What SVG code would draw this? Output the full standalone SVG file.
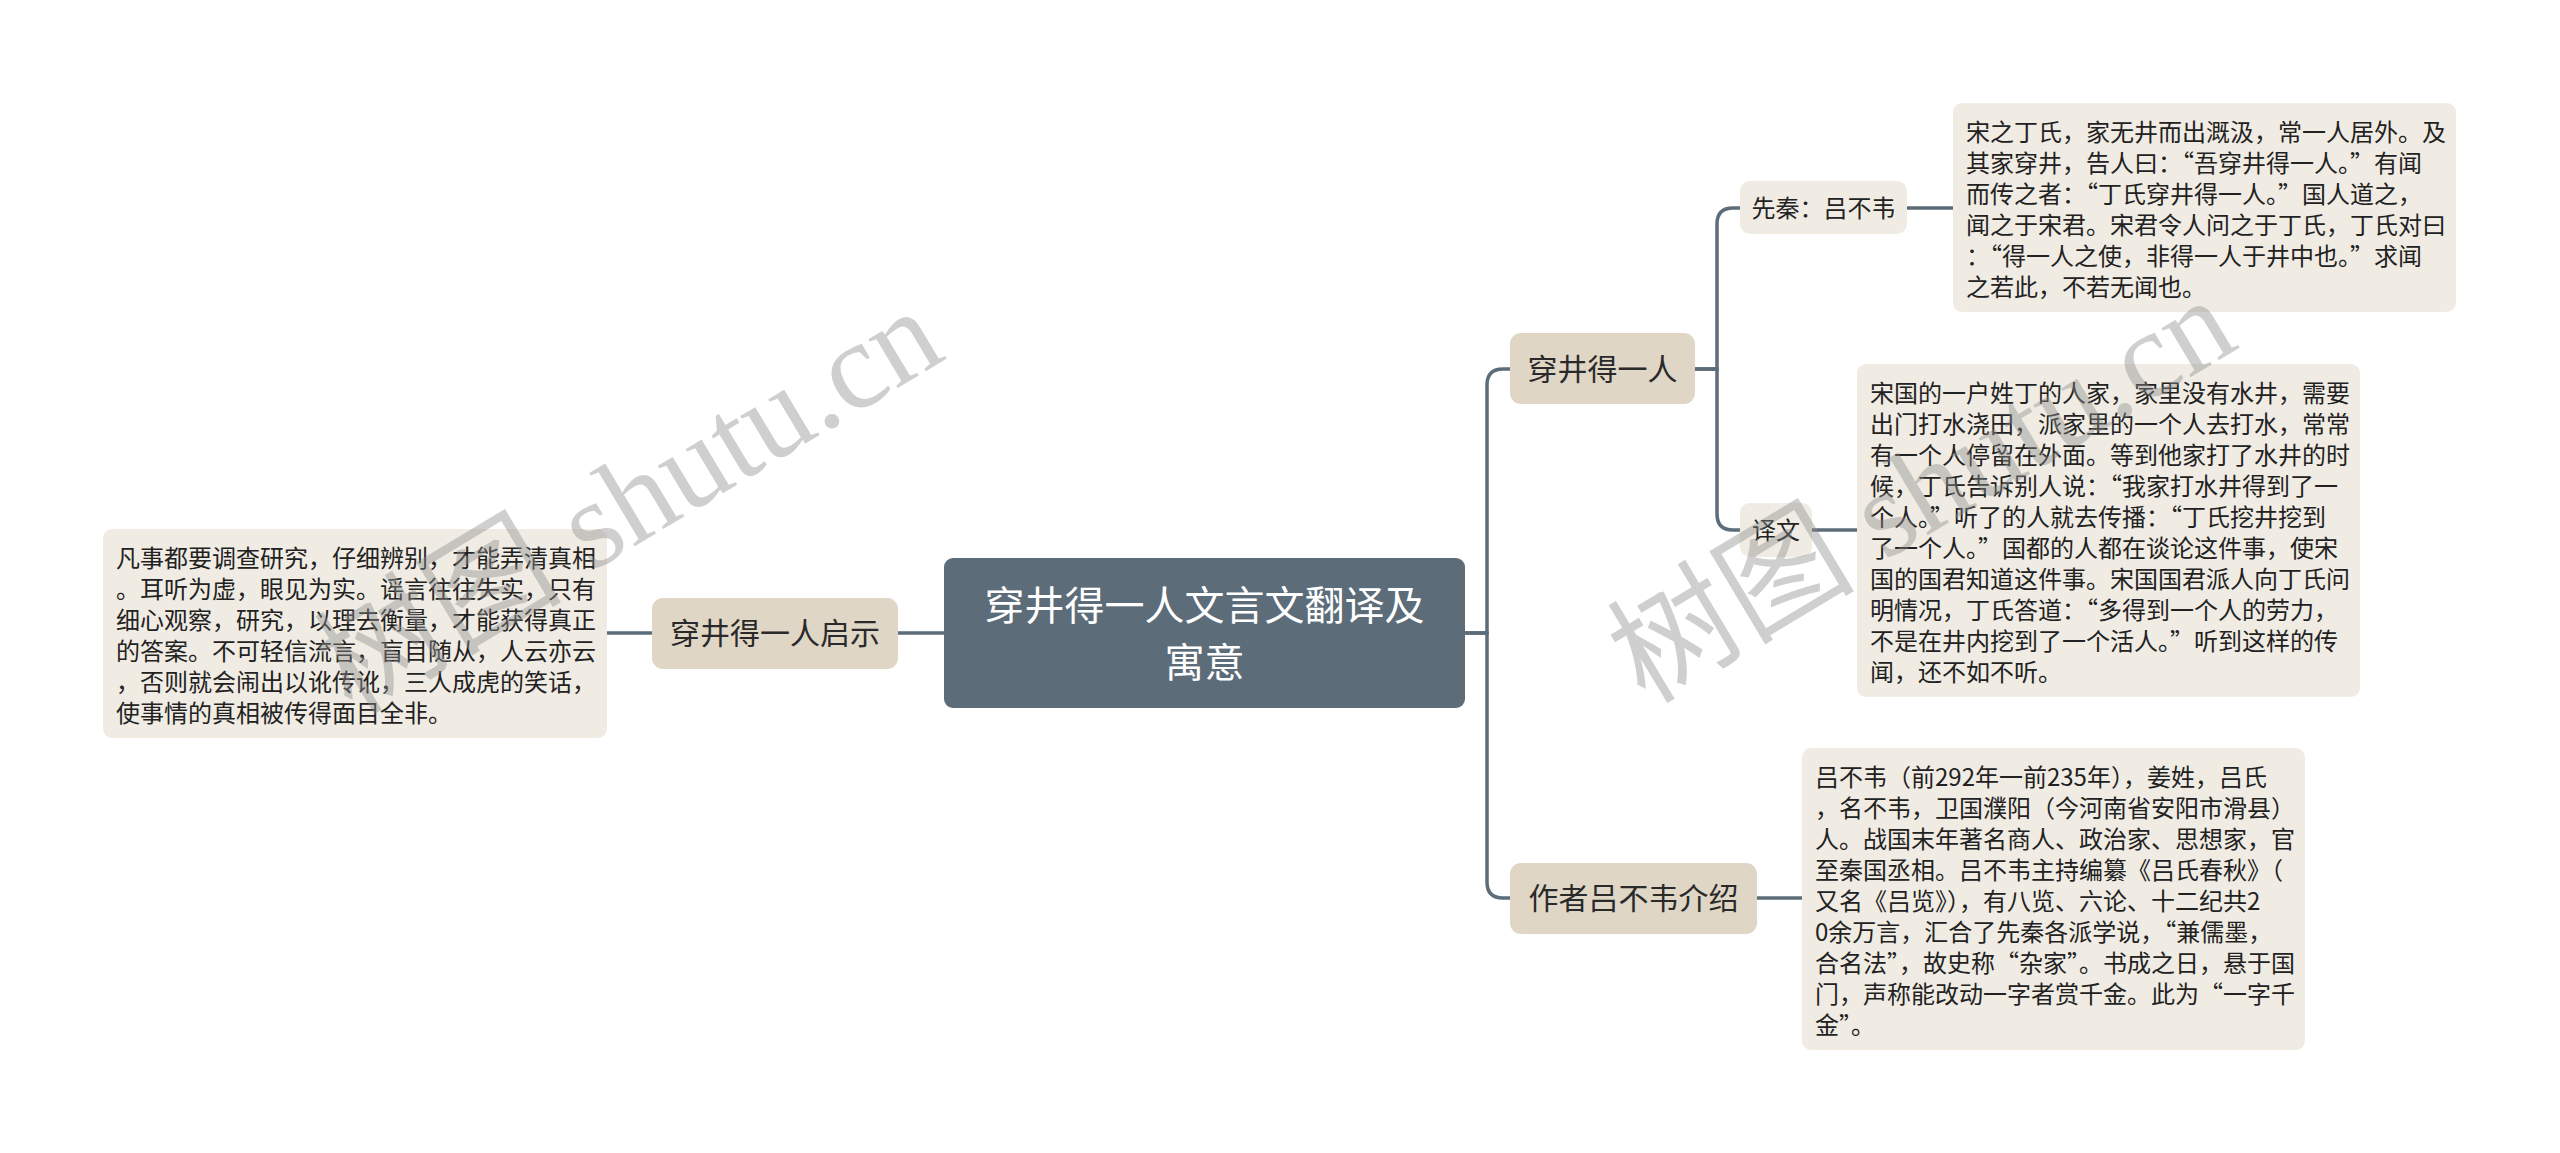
<svg xmlns="http://www.w3.org/2000/svg" width="2560" height="1153" viewBox="0 0 2560 1153">
<style>
.bg{fill:#ffffff}
.root rect{fill:#5c6c79}
.root text{fill:#ffffff;font-size:40px;text-anchor:middle}
.l1 rect{fill:#e0d6c6}
.l1 text{fill:#2a2a2a;font-size:30px;text-anchor:middle}
.l2 rect{fill:#f0ece4}
.l2 text{fill:#222222;font-size:24px;text-anchor:middle}
.leaf rect{fill:#f0ece4}
.leaf text{fill:#222222;font-size:24px}
text{font-family:"Noto Sans CJK SC","Noto Sans",sans-serif}
.conn path{fill:none;stroke:#5c6c79;stroke-width:3.5}
.wm{font-family:"Liberation Serif","Noto Sans CJK SC",serif;font-size:124px;fill:#8c8c8c;fill-opacity:0.42}
</style>
<rect class="bg" x="0" y="0" width="2560" height="1153"/>
<g id="connectors" class="conn">
<path d="M944 633 H898"/>
<path d="M652 633 H607"/>
<path d="M1465 633 H1487 V385 Q1487 369 1503 369 H1510"/>
<path d="M1465 633 H1487 V882 Q1487 898 1503 898 H1510"/>
<path d="M1695 369 H1717 V224 Q1717 208 1733 208 H1740"/>
<path d="M1695 369 H1717 V514 Q1717 530 1733 530 H1740"/>
<path d="M1907 208 H1953"/>
<path d="M1812 530 H1857"/>
<path d="M1757 898 H1802"/>
</g>
<g id="root" class="root">
<rect x="944" y="558" width="521" height="150" rx="9"/>
<text x="1204.5" y="620">穿井得一人文言文翻译及</text>
<text x="1204.5" y="677">寓意</text>
</g>
<g id="node-qishi" class="l1">
<rect x="652" y="598" width="246" height="71" rx="11"/>
<text x="775" y="644">穿井得一人启示</text>
</g>
<g id="leaf-qishi" class="leaf">
<rect x="103" y="529" width="504" height="209" rx="9"/>
<text x="116" y="567">凡事都要调查研究，仔细辨别，才能弄清真相</text>
<text x="116" y="598">。耳听为虚，眼见为实。谣言往往失实，只有</text>
<text x="116" y="629">细心观察，研究，以理去衡量，才能获得真正</text>
<text x="116" y="660">的答案。不可轻信流言，盲目随从，人云亦云</text>
<text x="116" y="691">，否则就会闹出以讹传讹，三人成虎的笑话，</text>
<text x="116" y="722">使事情的真相被传得面目全非。</text>
</g>
<g id="node-chuanjing" class="l1">
<rect x="1510" y="333" width="185" height="71" rx="11"/>
<text x="1602.5" y="380">穿井得一人</text>
</g>
<g id="node-xianqin" class="l2">
<rect x="1740" y="181" width="167" height="53" rx="10"/>
<text x="1823.5" y="217">先秦：吕不韦</text>
</g>
<g id="leaf-yuanwen" class="leaf">
<rect x="1953" y="103" width="503" height="209" rx="9"/>
<text x="1966" y="141">宋之丁氏，家无井而出溉汲，常一人居外。及</text>
<text x="1966" y="172">其家穿井，告人曰：“吾穿井得一人。”有闻</text>
<text x="1966" y="203">而传之者：“丁氏穿井得一人。”国人道之，</text>
<text x="1966" y="234">闻之于宋君。宋君令人问之于丁氏，丁氏对曰</text>
<text x="1966" y="265">：“得一人之使，非得一人于井中也。”求闻</text>
<text x="1966" y="296">之若此，不若无闻也。</text>
</g>
<g id="node-yiwen" class="l2">
<rect x="1740" y="503" width="72" height="54" rx="10"/>
<text x="1776" y="539">译文</text>
</g>
<g id="leaf-yiwen" class="leaf">
<rect x="1857" y="364" width="503" height="333" rx="9"/>
<text x="1870" y="402">宋国的一户姓丁的人家，家里没有水井，需要</text>
<text x="1870" y="433">出门打水浇田，派家里的一个人去打水，常常</text>
<text x="1870" y="464">有一个人停留在外面。等到他家打了水井的时</text>
<text x="1870" y="495">候，丁氏告诉别人说：“我家打水井得到了一</text>
<text x="1870" y="526">个人。”听了的人就去传播：“丁氏挖井挖到</text>
<text x="1870" y="557">了一个人。”国都的人都在谈论这件事，使宋</text>
<text x="1870" y="588">国的国君知道这件事。宋国国君派人向丁氏问</text>
<text x="1870" y="619">明情况，丁氏答道：“多得到一个人的劳力，</text>
<text x="1870" y="650">不是在井内挖到了一个活人。”听到这样的传</text>
<text x="1870" y="681">闻，还不如不听。</text>
</g>
<g id="node-author" class="l1">
<rect x="1510" y="863" width="247" height="71" rx="11"/>
<text x="1633.5" y="909">作者吕不韦介绍</text>
</g>
<g id="leaf-author" class="leaf">
<rect x="1802" y="748" width="503" height="302" rx="9"/>
<text x="1815" y="786">吕不韦（前292年一前235年），姜姓，吕氏</text>
<text x="1815" y="817">，名不韦，卫国濮阳（今河南省安阳市滑县）</text>
<text x="1815" y="848">人。战国末年著名商人、政治家、思想家，官</text>
<text x="1815" y="879">至秦国丞相。吕不韦主持编纂《吕氏春秋》（</text>
<text x="1815" y="910">又名《吕览》），有八览、六论、十二纪共2</text>
<text x="1815" y="941">0余万言，汇合了先秦各派学说，“兼儒墨，</text>
<text x="1815" y="972">合名法”，故史称“杂家”。书成之日，悬于国</text>
<text x="1815" y="1003">门，声称能改动一字者赏千金。此为“一字千</text>
<text x="1815" y="1034">金”。</text>
</g>
<g id="watermarks">
<text class="wm" transform="translate(352 716) rotate(-31)">树图 shutu.cn</text>
<text class="wm" transform="translate(1645 705) rotate(-31)">树图 shutu.cn</text>
</g>
</svg>
